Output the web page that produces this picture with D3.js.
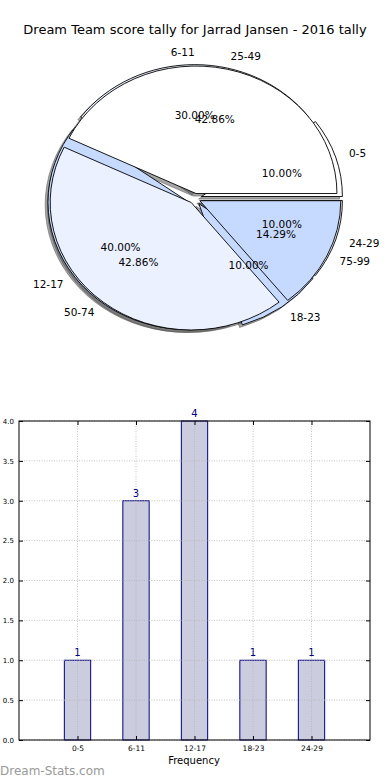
<!DOCTYPE html>
<html>
<head>
<meta charset="utf-8">
<script src="https://cdn.jsdelivr.net/npm/d3@7"></script>
<style>
body{margin:0;background:#fff;}
text{font-family:"DejaVu Sans",sans-serif;}
</style>
</head>
<body>
<div id="chart"></div>
<script>
// score bands, first ring
var pieCats1=['0-5','6-11','12-17','18-23','24-29'];
var pieVals1=[1,3,4,1,1];
// score bands, second ring
var pieCats2=['25-49','50-74','75-99'];
var pieVals2=[3,3,1];
// frequency bars
var barCats=['0-5','6-11','12-17','18-23','24-29'];
var barVals=[1,3,4,1,1];
var yTicks=[0,0.5,1,1.5,2,2.5,3,3.5,4];

var colors1=['#ffffff','#ebf1ff','#c6d9ff','#c6d9ff','#ebf1ff'];
var colors2=['#ffffff','#ebf1ff','#c6d9ff'];

var W=390,H=780;
var svg=d3.select('#chart').append('svg')
    .attr('width',W).attr('height',H);

svg.append('text')
    .attr('x',195).attr('y',34)
    .attr('text-anchor','middle')
    .attr('font-size',13)
    .text('Dream Team score tally for Jarrad Jansen - 2016 tally');

// ---- pie ----
var cx=194.7,cy=198.5,rx=141,ry=127.5;

function slices(vals,cats,cols,explode){
    var tot=d3.sum(vals);
    var p=d3.pie().sort(null).value(function(d){return d;})(vals);
    return p.map(function(s,i){
        // matplotlib style: ccw from east
        var t1=s.startAngle,t2=s.endAngle,tm=(t1+t2)/2;
        return {cat:cats[i],val:vals[i],pct:vals[i]/tot*100,col:cols[i],
            t1:t1,t2:t2,tm:tm,
            ox:explode*rx*Math.cos(tm),oy:-explode*ry*Math.sin(tm),ex:explode};
    });
}
var s1=slices(pieVals1,pieCats1,colors1,0.05);
var s2=slices(pieVals2,pieCats2,colors2,0.04);
var all=s1.concat(s2);

var arc=d3.arc().innerRadius(0).outerRadius(rx);
function wedgePath(d){
    return arc({startAngle:Math.PI/2-d.t2,endAngle:Math.PI/2-d.t1});
}

var pieG=svg.append('g');
// shadows under everything
pieG.selectAll('.shadow').data(all).enter()
    .append('path')
    .attr('class','shadow')
    .attr('d',wedgePath)
    .attr('transform',function(d){
        return 'translate('+(cx+d.ox-0.02*rx)+','+(cy+d.oy+0.02*ry)+') scale(1,'+(ry/rx)+')';
    })
    .attr('fill','#4d4d4d').attr('fill-opacity',0.5)
    .attr('stroke','#4d4d4d').attr('stroke-opacity',0.5)
    .attr('vector-effect','non-scaling-stroke');

pieG.selectAll('.wedge').data(all).enter()
    .append('path')
    .attr('class','wedge')
    .attr('d',wedgePath)
    .attr('transform',function(d){
        return 'translate('+(cx+d.ox)+','+(cy+d.oy)+') scale(1,'+(ry/rx)+')';
    })
    .attr('fill',function(d){return d.col;})
    .attr('stroke','#000').attr('stroke-width',0.9)
    .attr('vector-effect','non-scaling-stroke');

// labels
pieG.selectAll('.lab').data(all).enter()
    .append('text')
    .attr('class','lab')
    .attr('x',function(d){return cx+d.ox+1.1*rx*Math.cos(d.tm);})
    .attr('y',function(d){return cy+d.oy-1.1*ry*Math.sin(d.tm);})
    .attr('dy','0.35em')
    .attr('text-anchor',function(d){return Math.cos(d.tm)>1e-6?'start':'end';})
    .attr('font-size',10.5)
    .text(function(d){return d.cat;});

pieG.selectAll('.pct').data(all).enter()
    .append('text')
    .attr('class','pct')
    .attr('x',function(d){return cx+d.ox+0.6*rx*Math.cos(d.tm);})
    .attr('y',function(d){return cy+d.oy-0.6*ry*Math.sin(d.tm);})
    .attr('dy','0.35em')
    .attr('text-anchor','middle')
    .attr('font-size',10.5)
    .text(function(d){return d.pct.toFixed(2)+'%';});

// ---- bars ----
var bl=19,br=370,bt=421,bb=740;
var x=d3.scaleLinear().domain([-1,5]).range([bl,br]);
var y=d3.scaleLinear().domain([0,4]).range([bb,bt]);
var barG=svg.append('g');

barG.selectAll('rect.bar').data(barVals).enter().append('rect')
    .attr('class','bar')
    .attr('x',function(d,i){return x(i-0.225);})
    .attr('width',x(0.45)-x(0))
    .attr('y',function(d){return y(d);})
    .attr('height',function(d){return bb-y(d);})
    .attr('fill','#ccccdf').attr('stroke','#000080').attr('stroke-width',1);

// grid drawn over the bars, as in the original
barG.selectAll('.gy').data(yTicks).enter().append('line')
    .attr('x1',bl).attr('x2',br)
    .attr('y1',function(d){return y(d);}).attr('y2',function(d){return y(d);})
    .attr('stroke','#b4b4b4').attr('stroke-width',0.8).attr('stroke-dasharray','1,1.5');
barG.selectAll('.gx').data(barCats).enter().append('line')
    .attr('x1',function(d,i){return x(i);}).attr('x2',function(d,i){return x(i);})
    .attr('y1',bt).attr('y2',bb)
    .attr('stroke','#b4b4b4').attr('stroke-width',0.8).attr('stroke-dasharray','1,1.5');

barG.selectAll('.val').data(barVals).enter().append('text')
    .attr('x',function(d,i){return x(i);})
    .attr('y',function(d){return y(d)-4;})
    .attr('text-anchor','middle')
    .attr('font-size',10)
    .attr('fill','#000080')
    .text(function(d){return d;});

// frame
barG.append('rect')
    .attr('x',bl).attr('y',bt).attr('width',br-bl).attr('height',bb-bt)
    .attr('fill','none').attr('stroke','#000').attr('stroke-width',1);

// axes (ticks inside)
var yAxis=d3.axisLeft(y).tickValues(yTicks).tickFormat(d3.format('.1f')).tickSizeInner(-4).tickSizeOuter(0).tickPadding(5);
barG.append('g').attr('transform','translate('+bl+',0)').call(yAxis)
    .call(function(g){g.select('.domain').remove();g.selectAll('text').attr('font-size',7).attr('font-family','DejaVu Sans');});
barG.append('g').attr('transform','translate('+br+',0)')
    .call(d3.axisRight(y).tickValues(yTicks).tickFormat('').tickSizeInner(-4).tickSizeOuter(0))
    .call(function(g){g.select('.domain').remove();});

var xAxis=d3.axisBottom(x).tickValues(d3.range(barCats.length)).tickFormat(function(i){return barCats[i];})
    .tickSizeInner(-4).tickSizeOuter(0).tickPadding(6);
barG.append('g').attr('transform','translate(0,'+bb+')').call(xAxis)
    .call(function(g){g.select('.domain').remove();g.selectAll('text').attr('font-size',7.5).attr('font-family','DejaVu Sans');});
barG.append('g').attr('transform','translate(0,'+bt+')')
    .call(d3.axisTop(x).tickValues(d3.range(barCats.length)).tickFormat('').tickSizeInner(-4).tickSizeOuter(0))
    .call(function(g){g.select('.domain').remove();});

svg.append('text')
    .attr('x',194).attr('y',764)
    .attr('text-anchor','middle')
    .attr('font-size',10)
    .text('Frequency');

svg.append('text')
    .attr('x',0).attr('y',775)
    .attr('font-size',12)
    .attr('fill','#999')
    .text('Dream-Stats.com');
</script>
</body>
</html>
